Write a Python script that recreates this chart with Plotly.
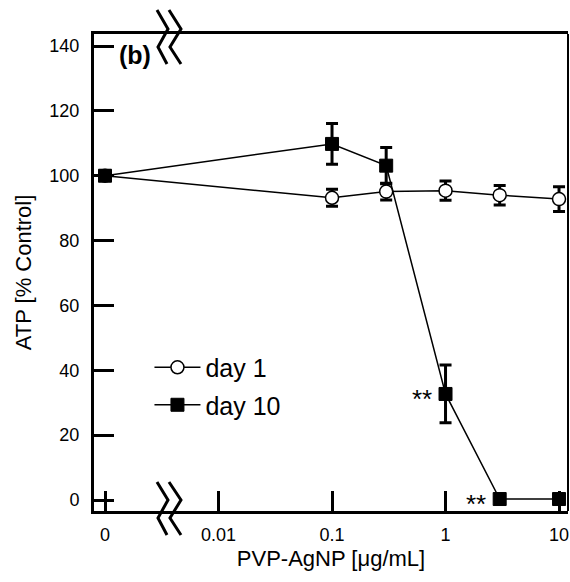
import math
import plotly.graph_objects as go

# ---- data ----
# concentration 0 is drawn at the broken-axis position 0.001
conc = [0.001, 0.1, 0.3, 1, 3, 10]
day1 = [100, 93.2, 95.1, 95.4, 94.0, 92.8]
day1_err = [1.0, 2.6, 2.6, 3.0, 3.0, 3.8]
day10 = [100, 109.8, 103.1, 32.7, 0.3, 0.3]
day10_err = [1.5, 6.3, 5.6, 8.9, 0.5, 0.5]
x_tickvals = [0.001, 0.01, 0.1, 1, 10]
x_ticktext = ["0", "0.01", "0.1", "1", "10"]
y_tickvals = [0, 20, 40, 60, 80, 100, 120, 140]
sig_x = [1, 3]
sig_y = [32.7, 0.3]

FONT = "Liberation Sans, Arial, sans-serif"
W, H = 570, 582
L, R, T, B = 94, 2, 34, 71
PW, PH = W - L - R, H - T - B


def px(x, y):
    return (x - L) / PW, (H - B - y) / PH


def zig(points):
    pts = [px(x, y) for x, y in points]
    d = "M{:.4f},{:.4f}".format(*pts[0])
    for p in pts[1:]:
        d += " L{:.4f},{:.4f}".format(*p)
    return d


fig = go.Figure()
fig.add_trace(go.Scatter(
    x=conc, y=day1, name="day 1", mode="lines+markers",
    line=dict(color="black", width=1.5),
    marker=dict(symbol="circle", size=13, color="white",
                line=dict(color="black", width=1.5)),
    error_y=dict(type="data", array=day1_err, color="black",
                 thickness=3, width=6),
    legendgroup="a",
))
fig.add_trace(go.Scatter(
    x=conc, y=day10, name="day 10", mode="lines+markers",
    line=dict(color="black", width=1.5),
    marker=dict(symbol="square", size=13, color="black",
                line=dict(color="black", width=1)),
    error_y=dict(type="data", array=day10_err, color="black",
                 thickness=3, width=6),
    legendgroup="b",
))

for sx, sy in zip(sig_x, sig_y):
    fig.add_annotation(x=math.log10(sx), y=sy, xref="x", yref="y", text="**",
                       showarrow=False, xshift=-24, yshift=-5,
                       xanchor="center", yanchor="middle",
                       font=dict(family=FONT, size=26, color="black"))

bx, by = px(135, 55)
fig.add_annotation(x=bx, y=by, xref="paper", yref="paper",
                   text="<b>(b)</b>", showarrow=False,
                   xanchor="center", yanchor="middle",
                   font=dict(family=FONT, size=25, color="black"))

shapes = []
for pts in [
    [(157, 10), (168, 29), (158, 47), (167, 64)],
    [(169, 10), (181, 29), (170, 47), (181, 64)],
    [(157, 482), (168, 500), (158, 518), (167, 535)],
    [(169, 482), (181, 500), (170, 518), (181, 535)],
]:
    shapes.append(dict(type="path", xref="paper", yref="paper", path=zig(pts),
                       line=dict(color="black", width=3)))
shapes.append(dict(type="line", xref="paper", yref="paper", x0=1, x1=1, y0=0, y1=1,
                   line=dict(color="black", width=2)))

fig.update_layout(
    width=W, height=H, autosize=False,
    margin=dict(l=L, r=R, t=T, b=B, pad=0),
    paper_bgcolor="white", plot_bgcolor="white",
    font=dict(family=FONT, size=18, color="black"),
    showlegend=True,
    legend=dict(x=0.117, y=0.349, xanchor="left", yanchor="top",
                font=dict(family=FONT, size=25, color="black"),
                itemwidth=46,
                bgcolor="rgba(0,0,0,0)", tracegroupgap=2),
    shapes=shapes,
    xaxis=dict(
        type="log", range=[-3.097, 1.079],
        tickvals=x_tickvals, ticktext=x_ticktext,
        ticks="inside", ticklen=20, tickwidth=2.5, tickcolor="black",
        showline=True, linewidth=3, linecolor="black", mirror=True,
        showgrid=False, zeroline=False,
        tickfont=dict(family=FONT, size=18, color="black"),
        ticklabelstandoff=5,
        title=dict(text="PVP-AgNP [μg/mL]", font=dict(family=FONT, size=22, color="black"),
                   standoff=8),
        automargin=False,
    ),
    yaxis=dict(
        range=[-3.39, 143.7], tickvals=y_tickvals,
        ticks="inside", ticklen=20, tickwidth=3, tickcolor="black",
        showline=True, linewidth=3, linecolor="black", mirror=False,
        showgrid=False, zeroline=False,
        tickfont=dict(family=FONT, size=18, color="black"),
        ticklabelstandoff=8,
        title=dict(text="ATP [% Control]", font=dict(family=FONT, size=22, color="black"),
                   standoff=12),
        automargin=False,
    ),
)

fig.write_html("out.html")
